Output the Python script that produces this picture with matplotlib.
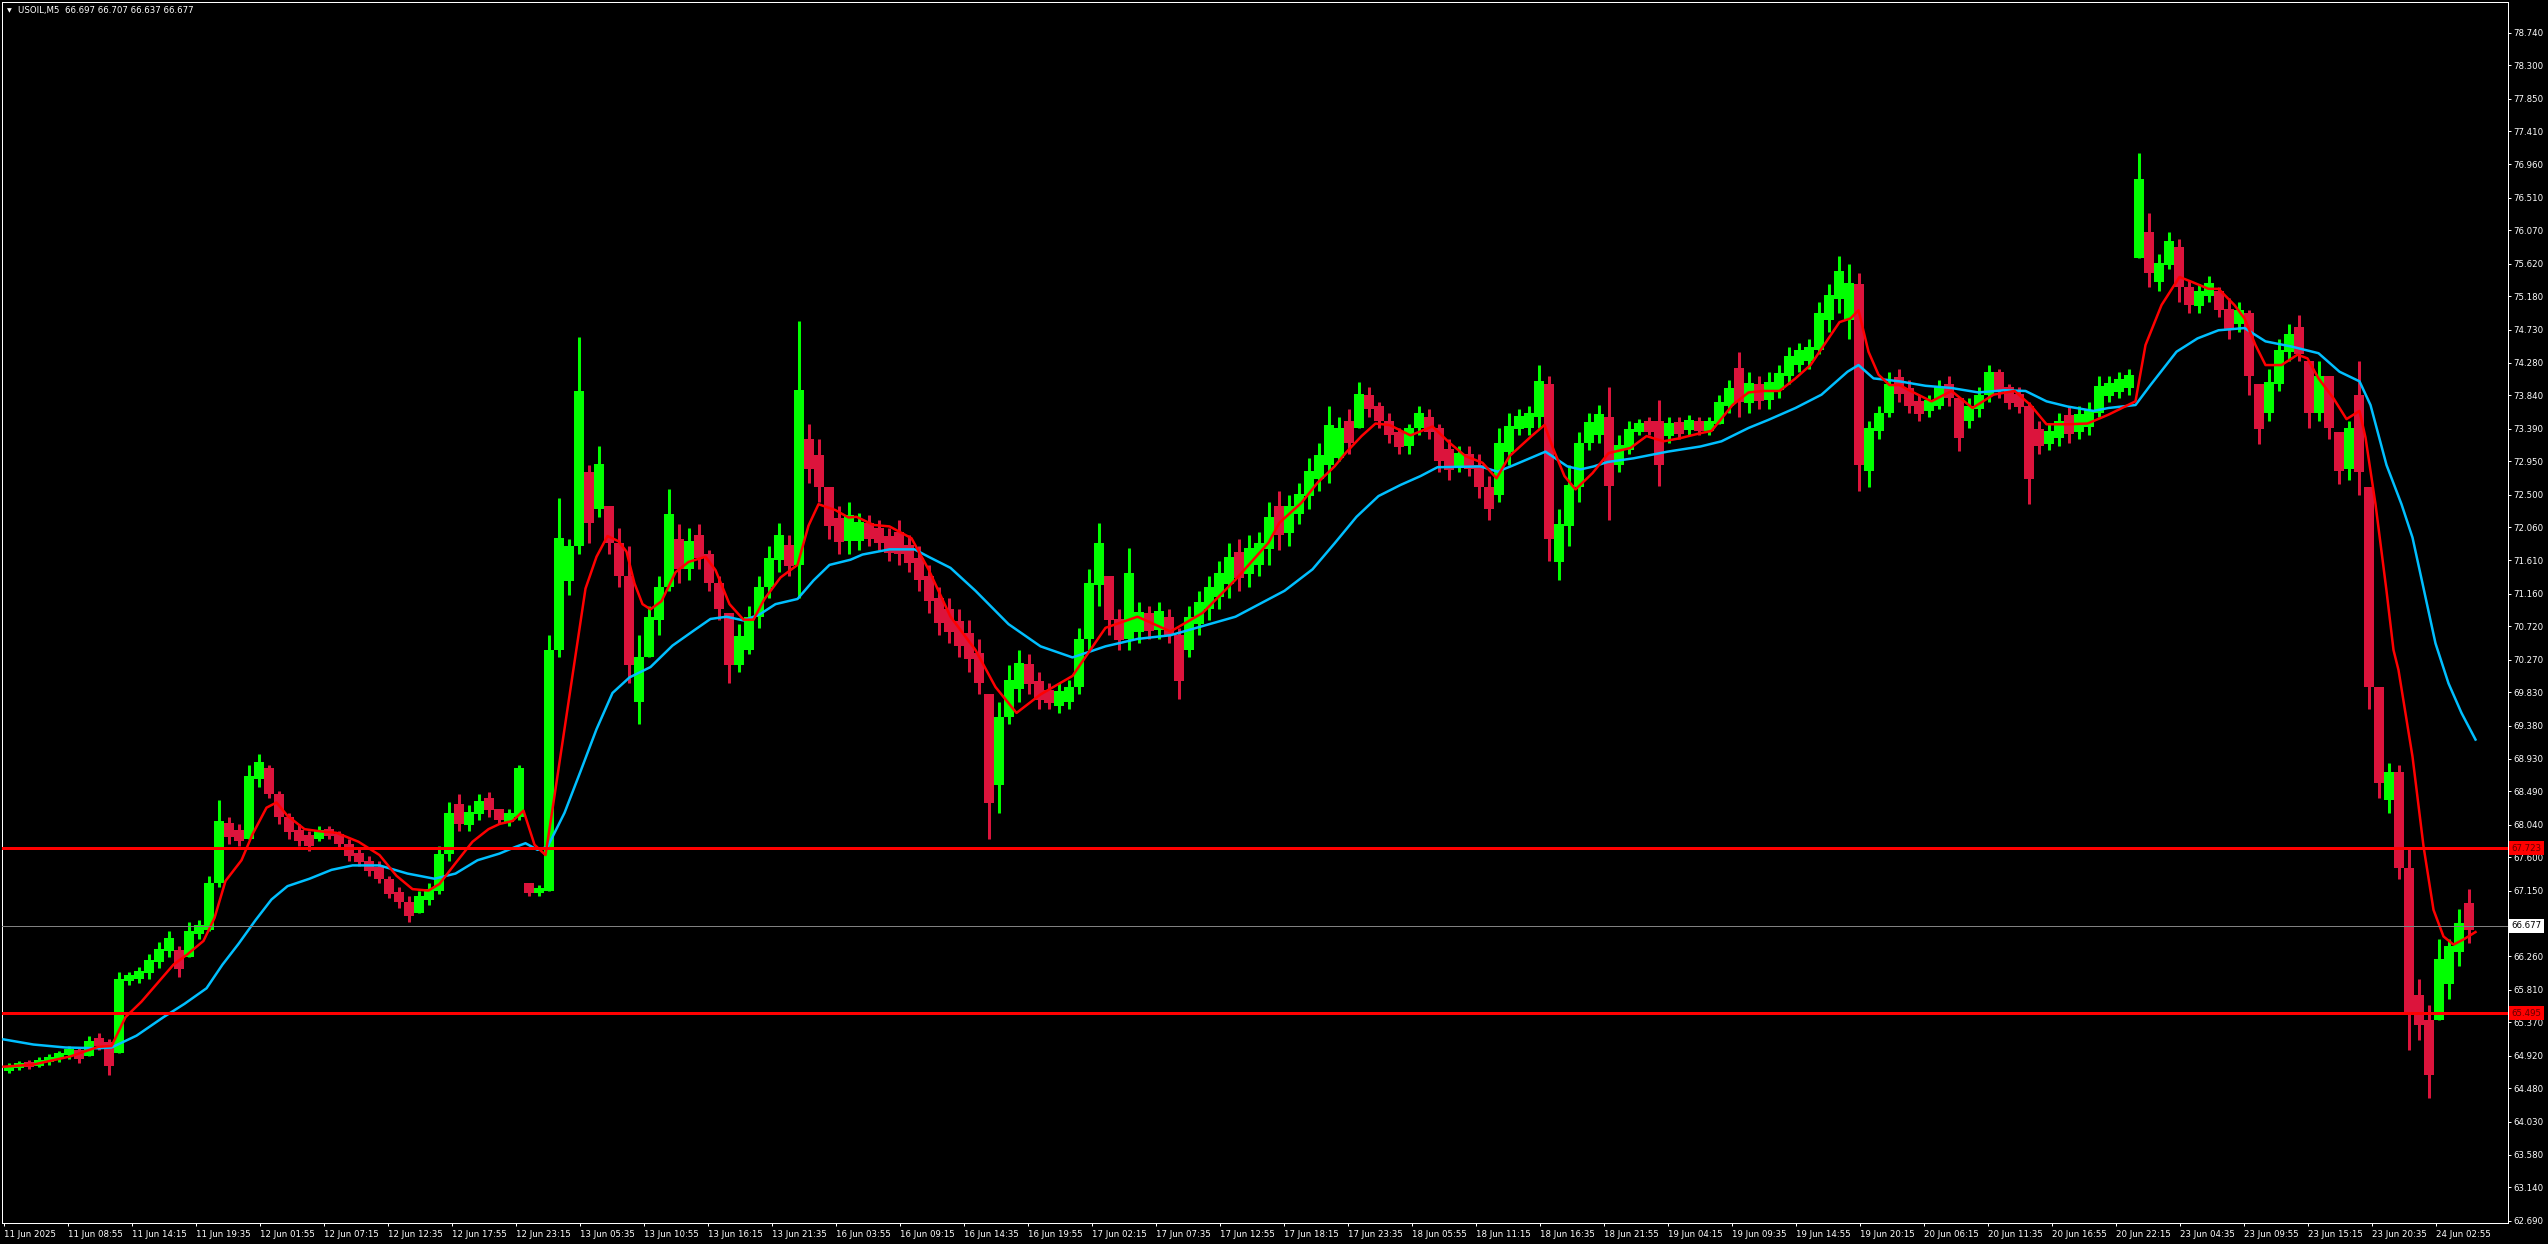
import numpy as np
import matplotlib
matplotlib.use("Agg")
import matplotlib.pyplot as plt

# USOIL M5 -- price, one entry per 10 bars (50 min)
seg_low = [
    64.68, 64.72, 64.74, 64.76, 64.80, 64.84, 64.88, 64.82, 64.92, 65.00,
    64.66, 64.95, 65.88, 65.90, 65.95, 66.10, 66.25, 65.98, 66.25, 66.50,
    66.60, 67.20, 67.78, 67.75, 67.85, 68.55, 68.40, 68.05, 67.85, 67.75,
    67.68, 67.82, 67.85, 67.72, 67.55, 67.48, 67.35, 67.25, 67.05, 66.92,
    66.72, 66.85, 66.95, 67.10, 67.55, 67.95, 67.95, 68.10, 68.15, 68.05,
    68.02, 68.10, 67.08, 67.08, 67.15, 70.30, 71.15, 71.70, 71.85, 72.20,
    71.70, 71.25, 69.95, 69.40, 70.30, 70.60, 71.20, 71.30, 71.35, 71.50,
    71.20, 70.80, 69.96, 70.10, 70.35, 70.70, 71.10, 71.45, 71.40, 71.10,
    72.65, 72.40, 71.90, 71.70, 71.70, 71.75, 71.80, 71.75, 71.60, 71.55,
    71.45, 71.20, 70.90, 70.60, 70.50, 70.30, 70.10, 69.80, 67.85, 68.20,
    69.40, 69.70, 69.80, 69.60, 69.60, 69.55, 69.60, 69.80, 70.40, 71.00,
    70.60, 70.40, 70.40, 70.50, 70.55, 70.55, 70.50, 69.74, 70.30, 70.60,
    70.80, 70.95, 71.10, 71.20, 71.25, 71.40, 71.55, 71.75, 71.80, 72.10,
    72.30, 72.55, 72.65, 72.95, 73.05, 73.40, 73.55, 73.40, 73.20, 73.05,
    73.05, 73.30, 73.25, 72.80, 72.70, 72.80, 72.75, 72.45, 72.16, 72.40,
    72.90, 73.30, 73.30, 73.40, 71.60, 71.35, 71.80, 72.40, 73.10, 73.20,
    72.16, 72.80, 73.05, 73.30, 73.30, 72.61, 73.20, 73.25, 73.30, 73.30,
    73.30, 73.45, 73.60, 73.55, 73.60, 73.65, 73.65, 73.80, 74.00, 74.15,
    74.20, 74.40, 74.70, 74.95, 74.60, 72.55, 72.60, 73.25, 73.55, 73.75,
    73.60, 73.50, 73.55, 73.65, 73.70, 73.09, 73.40, 73.55, 73.75, 73.80,
    73.65, 73.60, 72.37, 73.05, 73.10, 73.15, 73.20, 73.25, 73.30, 73.55,
    73.75, 73.80, 73.85, 75.70, 75.30, 75.25, 75.55, 75.10, 74.95, 74.95,
    75.10, 74.90, 74.60, 74.70, 73.85, 73.18, 73.50, 73.90, 74.30, 74.30,
    73.40, 73.50, 73.25, 72.64, 72.70, 72.50, 69.60, 68.40, 68.20, 67.30,
    65.00, 65.13, 64.35, 65.40, 65.68, 66.13, 66.44,
]
seg_high = [
    64.82, 64.85, 64.86, 64.90, 64.94, 64.98, 65.05, 65.02, 65.18, 65.22,
    65.15, 66.05, 66.05, 66.12, 66.30, 66.45, 66.60, 66.40, 66.72, 66.75,
    67.35, 68.38, 68.15, 68.05, 68.85, 69.00, 68.85, 68.50, 68.20, 68.05,
    67.95, 68.02, 68.02, 67.95, 67.85, 67.72, 67.62, 67.55, 67.35, 67.20,
    67.08, 67.15, 67.25, 67.75, 68.35, 68.45, 68.30, 68.45, 68.48, 68.25,
    68.25, 68.85, 67.25, 67.22, 70.60, 72.45, 71.90, 74.63, 72.90, 73.15,
    72.35, 72.05, 71.80, 70.60, 71.00, 71.40, 72.58, 72.10, 72.05, 72.10,
    71.75, 71.40, 70.90, 70.75, 71.00, 71.40, 71.80, 72.12, 71.95, 74.85,
    73.45, 73.25, 72.60, 72.35, 72.40, 72.25, 72.22, 72.15, 72.05, 72.15,
    71.95, 71.80, 71.55, 71.25, 71.10, 70.95, 70.80, 70.55, 69.80, 69.70,
    70.20, 70.40, 70.35, 70.10, 69.95, 69.95, 70.00, 70.70, 71.50, 72.12,
    71.40, 70.95, 71.78, 71.05, 71.00, 71.05, 70.95, 70.70, 71.00, 71.20,
    71.40, 71.60, 71.85, 71.90, 71.95, 72.00, 72.40, 72.55, 72.50, 72.65,
    73.00, 73.20, 73.70, 73.55, 73.65, 74.02, 73.95, 73.75, 73.60, 73.40,
    73.45, 73.70, 73.65, 73.45, 73.25, 73.15, 73.15, 73.05, 72.75, 73.40,
    73.60, 73.65, 73.70, 74.25, 74.10, 72.30, 72.90, 73.35, 73.60, 73.71,
    73.96, 73.30, 73.50, 73.52, 73.55, 73.78, 73.55, 73.55, 73.58, 73.55,
    73.55, 73.85, 74.05, 74.43, 74.15, 74.10, 74.15, 74.25, 74.50, 74.55,
    74.60, 75.10, 75.35, 75.72, 75.62, 75.50, 73.50, 73.70, 74.15, 74.20,
    74.05, 73.85, 73.85, 74.05, 74.10, 73.80, 73.80, 73.95, 74.25, 74.20,
    74.00, 73.95, 73.75, 73.50, 73.45, 73.60, 73.70, 73.70, 73.75, 74.10,
    74.10, 74.15, 74.20, 77.12, 76.30, 75.75, 76.05, 75.95, 75.40, 75.35,
    75.45, 75.30, 75.15, 75.10, 75.00, 74.00, 74.20, 74.60, 74.80, 74.92,
    74.30, 74.30, 74.10, 73.35, 73.50, 74.30, 72.60, 69.90, 68.88, 68.85,
    67.72, 65.95, 65.60, 66.50, 66.50, 66.90, 67.17,
]
seg_close = [
    64.76, 64.80, 64.78, 64.86, 64.90, 64.95, 65.00, 64.92, 65.12, 65.10,
    64.95, 65.95, 65.95, 66.05, 66.20, 66.35, 66.35, 66.25, 66.60, 66.62,
    67.25, 68.05, 67.90, 67.85, 68.70, 68.80, 68.45, 68.15, 67.95, 67.90,
    67.85, 67.95, 67.92, 67.78, 67.62, 67.55, 67.45, 67.30, 67.10, 67.00,
    66.85, 67.05, 67.15, 67.65, 68.20, 68.05, 68.20, 68.35, 68.25, 68.12,
    68.15, 68.80, 67.15, 67.15, 70.40, 71.60, 71.80, 72.80, 72.30, 72.60,
    71.85, 71.40, 70.20, 70.30, 70.85, 71.25, 71.90, 71.50, 71.80, 71.70,
    71.30, 70.95, 70.20, 70.40, 70.85, 71.25, 71.65, 71.75, 71.55, 73.20,
    72.85, 72.60, 72.10, 71.95, 72.05, 72.10, 72.00, 71.85, 71.80, 71.70,
    71.60, 71.40, 71.10, 70.80, 70.70, 70.45, 70.35, 69.95, 68.60, 69.50,
    69.90, 70.15, 69.95, 69.80, 69.75, 69.80, 69.90, 70.55, 71.30, 71.40,
    70.80, 70.55, 70.70, 70.90, 70.75, 70.85, 70.60, 70.40, 70.85, 71.00,
    71.20, 71.40, 71.50, 71.45, 71.70, 71.80, 72.20, 72.00, 72.35, 72.50,
    72.80, 72.90, 73.00, 73.40, 73.30, 73.80, 73.70, 73.50, 73.35, 73.15,
    73.40, 73.50, 73.40, 72.95, 72.90, 72.95, 72.90, 72.60, 72.50, 73.20,
    73.40, 73.45, 73.55, 74.00, 71.90, 72.10, 72.60, 73.20, 73.30, 73.55,
    72.90, 73.10, 73.35, 73.45, 73.35, 73.30, 73.45, 73.40, 73.45, 73.40,
    73.45, 73.70, 73.90, 73.75, 73.85, 73.80, 74.00, 74.10, 74.35, 74.40,
    74.45, 74.95, 75.20, 75.30, 75.35, 72.90, 73.40, 73.60, 73.95, 73.90,
    73.70, 73.65, 73.70, 73.95, 73.85, 73.50, 73.65, 73.85, 74.15, 73.95,
    73.80, 73.70, 73.30, 73.25, 73.30, 73.40, 73.35, 73.55, 73.60, 73.90,
    73.95, 73.95, 74.00, 75.95, 75.50, 75.60, 75.85, 75.30, 75.10, 75.20,
    75.25, 75.00, 74.80, 74.95, 74.10, 73.60, 74.00, 74.45, 74.55, 74.40,
    73.60, 74.10, 73.40, 72.85, 73.40, 72.80, 69.90, 68.60, 68.75, 67.45,
    65.50, 65.40, 65.30, 66.20, 66.40, 66.70, 66.677,
]

# moving averages (bar number, price)
ma_fast_bar = [0, 30, 67, 95, 108, 122, 138, 154, 170, 184, 200, 211, 222, 238, 249, 263, 273, 284, 301,
               317, 333, 355, 376, 393, 409, 425, 436, 452, 469, 485, 496, 509, 520, 531, 542, 550, 561,
               572, 582, 593, 604, 615, 623, 631, 639, 647, 658, 672, 685, 702, 712, 726, 740, 750, 761,
               777, 794, 805, 815, 832, 845, 853, 870, 886, 908, 925, 947, 972, 992, 1013, 1037, 1069,
               1102, 1134, 1167, 1199, 1232, 1265, 1276, 1298, 1314, 1331, 1342, 1358, 1372, 1386, 1407,
               1429, 1446, 1462, 1479, 1493, 1506, 1528, 1541, 1550, 1561, 1572, 1589, 1605, 1627, 1643,
               1660, 1676, 1697, 1708, 1729, 1745, 1760, 1776, 1792, 1807, 1823, 1836, 1847, 1855, 1865,
               1875, 1886, 1896, 1907, 1928, 1948, 1969, 1990, 2011, 2027, 2043, 2064, 2084, 2105, 2132,
               2142, 2158, 2176, 2189, 2205, 2215, 2231, 2241, 2252, 2262, 2278, 2294, 2304, 2315, 2330,
               2343, 2356, 2362, 2372, 2383, 2390, 2395, 2409, 2420, 2430, 2440, 2450, 2460, 2472]
ma_fast_val = [64.77, 64.80, 64.91, 65.04, 65.05, 65.44, 65.65, 65.90, 66.15, 66.29, 66.47, 66.78, 67.28,
               67.56, 67.91, 68.27, 68.34, 68.16, 67.98, 67.95, 67.93, 67.81, 67.63, 67.35, 67.17, 67.15,
               67.24, 67.52, 67.81, 67.98, 68.05, 68.09, 68.23, 67.77, 67.63, 68.34, 69.33, 70.32, 71.23,
               71.66, 71.94, 71.87, 71.73, 71.30, 71.02, 70.95, 71.06, 71.45, 71.59, 71.66, 71.48, 71.02,
               70.81, 70.81, 71.09, 71.38, 71.55, 72.08, 72.37, 72.29, 72.19, 72.20, 72.09, 72.07, 71.91,
               71.49, 70.85, 70.40, 69.90, 69.55, 69.80, 70.05, 70.70, 70.85, 70.65, 70.90, 71.35, 71.85,
               72.12, 72.39, 72.66, 72.88, 73.06, 73.29, 73.46, 73.44, 73.30, 73.42, 73.20, 73.02, 72.93,
               72.72, 73.02, 73.29, 73.44, 73.11, 72.75, 72.57, 72.79, 73.06, 73.13, 73.29, 73.22, 73.26,
               73.33, 73.36, 73.71, 73.88, 73.90, 73.90, 74.07, 74.25, 74.57, 74.83, 74.88, 74.99, 74.43,
               74.12, 73.98, 73.98, 73.90, 73.76, 73.90, 73.67, 73.85, 73.90, 73.71, 73.45, 73.45, 73.46,
               73.58, 73.76, 74.52, 75.06, 75.44, 75.37, 75.28, 75.28, 75.06, 74.88, 74.52, 74.25, 74.25,
               74.39, 74.34, 74.07, 73.80, 73.52, 73.63, 73.27, 72.37, 71.20, 70.40, 70.13, 68.96, 67.75,
               66.89, 66.53, 66.42, 66.49, 66.59]

ma_slow_bar = [0, 30, 62, 95, 108, 133, 160, 181, 203, 219, 235, 252, 268, 284, 306, 328, 349, 376, 404,
               431, 452, 474, 496, 512, 522, 534, 544, 561, 577, 593, 609, 626, 647, 669, 691, 707, 723,
               740, 756, 772, 794, 810, 826, 847, 859, 886, 911, 925, 947, 972, 1005, 1037, 1069, 1102,
               1134, 1167, 1232, 1281, 1309, 1331, 1353, 1375, 1397, 1417, 1434, 1477, 1494, 1507, 1542,
               1564, 1577, 1590, 1604, 1630, 1664, 1697, 1718, 1745, 1765, 1792, 1818, 1844, 1855, 1870,
               1896, 1922, 1948, 1975, 2001, 2022, 2043, 2064, 2090, 2105, 2132, 2147, 2173, 2194, 2215,
               2241, 2262, 2288, 2315, 2336, 2356, 2367, 2383, 2398, 2409, 2419, 2432, 2445, 2458, 2472]
ma_slow_val = [65.14, 65.07, 65.03, 65.02, 65.03, 65.19, 65.44, 65.62, 65.83, 66.15, 66.43, 66.75, 67.03,
               67.21, 67.31, 67.43, 67.49, 67.49, 67.38, 67.31, 67.38, 67.56, 67.65, 67.74, 67.79, 67.70,
               67.74, 68.20, 68.76, 69.33, 69.82, 70.03, 70.17, 70.46, 70.67, 70.82, 70.85, 70.80, 70.88,
               71.02, 71.09, 71.34, 71.55, 71.62, 71.69, 71.76, 71.76, 71.66, 71.51, 71.20, 70.75, 70.45,
               70.30, 70.45, 70.55, 70.60, 70.85, 71.20, 71.49, 71.84, 72.20, 72.48, 72.63, 72.75, 72.87,
               72.88, 72.81, 72.88, 73.08, 72.88, 72.84, 72.88, 72.94, 72.99, 73.08, 73.15, 73.22, 73.40,
               73.51, 73.67, 73.85, 74.16, 74.25, 74.07, 74.03, 73.97, 73.94, 73.88, 73.91, 73.90, 73.76,
               73.69, 73.63, 73.67, 73.71, 73.98, 74.43, 74.61, 74.72, 74.75, 74.57, 74.50, 74.41, 74.16,
               74.03, 73.71, 72.90, 72.37, 71.92, 71.30, 70.49, 69.95, 69.55, 69.19]

level_hi = 67.723
level_lo = 65.495
last_price = 66.677

x_labels = ["11 Jun 2025", "11 Jun 08:55", "11 Jun 14:15", "11 Jun 19:35", "12 Jun 01:55", "12 Jun 07:15",
            "12 Jun 12:35", "12 Jun 17:55", "12 Jun 23:15", "13 Jun 05:35", "13 Jun 10:55", "13 Jun 16:15",
            "13 Jun 21:35", "16 Jun 03:55", "16 Jun 09:15", "16 Jun 14:35", "16 Jun 19:55", "17 Jun 02:15",
            "17 Jun 07:35", "17 Jun 12:55", "17 Jun 18:15", "17 Jun 23:35", "18 Jun 05:55", "18 Jun 11:15",
            "18 Jun 16:35", "18 Jun 21:55", "19 Jun 04:15", "19 Jun 09:35", "19 Jun 14:55", "19 Jun 20:15",
            "20 Jun 06:15", "20 Jun 11:35", "20 Jun 16:55", "20 Jun 22:15", "23 Jun 04:35", "23 Jun 09:55",
            "23 Jun 15:15", "23 Jun 20:35", "24 Jun 02:55"]
y_ticks = [62.690, 63.140, 63.580, 64.030, 64.480, 64.920, 65.370, 65.810, 66.260, 67.150, 67.600,
           68.040, 68.490, 68.930, 69.380, 69.830, 70.270, 70.720, 71.160, 71.610, 72.060, 72.500,
           72.950, 73.390, 73.840, 74.280, 74.730, 75.180, 75.620, 76.070, 76.510, 76.960, 77.410,
           77.850, 78.300, 78.740]

W, H = 2548, 1244
PX = 0.72  # one pixel in points at dpi 100

fig = plt.figure(figsize=(W / 100, H / 100), dpi=100, facecolor="black")
ax = fig.add_axes([2 / W, 21 / H, 2505.5 / W, 1221 / H], facecolor="black")

# bars, 10 M5 bars per segment: thin full range + wide core (open/close and middle of range)
lo = np.array(seg_low)
hi = np.array(seg_high)
cl = np.array(seg_close)
op = np.r_[cl[0], cl[:-1]]
seg_x = np.arange(len(lo)) * 10 + 5
cols = np.where(cl >= op, "#00FF00", "#DC143C")
mid = (lo + hi) / 2
half = (hi - lo) * 0.25
core_lo = np.clip(np.minimum(np.minimum(op, cl), mid - half), lo, hi)
core_hi = np.clip(np.maximum(np.maximum(op, cl), mid + half), lo, hi)
ax.vlines(seg_x, lo, hi, colors=cols, linewidth=3 * PX, capstyle="butt", zorder=2)
ax.vlines(seg_x, core_lo, core_hi, colors=cols, linewidth=10 * PX, capstyle="butt", zorder=2)

ax.plot(ma_slow_bar, ma_slow_val, color="#00BFFF", lw=2.5 * PX, zorder=3)
ax.plot(ma_fast_bar, ma_fast_val, color="#FF0000", lw=2.5 * PX, zorder=3)

ax.axhline(level_hi, color="#FF0000", lw=3 * PX, zorder=4)
ax.axhline(level_lo, color="#FF0000", lw=3 * PX, zorder=4)
ax.axhline(last_price, color="#808080", lw=1 * PX, zorder=4)

ax.set_xlim(-1.5, 2504)
ax.set_ylim(62.659, 79.155)

for s in ax.spines.values():
    s.set_color("white")
    s.set_linewidth(PX)

ax.set_xticks(np.arange(len(x_labels)) * 64)
ax.set_xticklabels(x_labels)
for lbl in ax.get_xticklabels():
    lbl.set_ha("left")
ax.yaxis.tick_right()
ax.set_yticks(y_ticks)
ax.set_yticklabels(["%.3f" % v for v in y_ticks])
ax.tick_params(colors="white", labelcolor="white", labelsize=6.2, length=3 * PX, width=PX, pad=2)
ax.tick_params(axis="x", pad=3)

ytr = ax.get_yaxis_transform()
for val, fc, tc in [(level_hi, "#FF0000", "#600000"), (level_lo, "#FF0000", "#600000"),
                    (last_price, "white", "black")]:
    ax.text(1.0015, val, "%.3f" % val, transform=ytr, fontsize=6.2, color=tc, va="center", ha="left",
            zorder=6, bbox=dict(boxstyle="square,pad=0.3", fc=fc, ec="none"))

fig.text(7 / W, 1 - 11 / H, "\u25bc", color="white", fontsize=4.5, va="center", ha="left")
fig.text(18 / W, 1 - 11 / H, "USOIL,M5  66.697 66.707 66.637 66.677", color="white",
         fontsize=6.2, va="center", ha="left")

fig.savefig("out.png", dpi=100, facecolor="black")
